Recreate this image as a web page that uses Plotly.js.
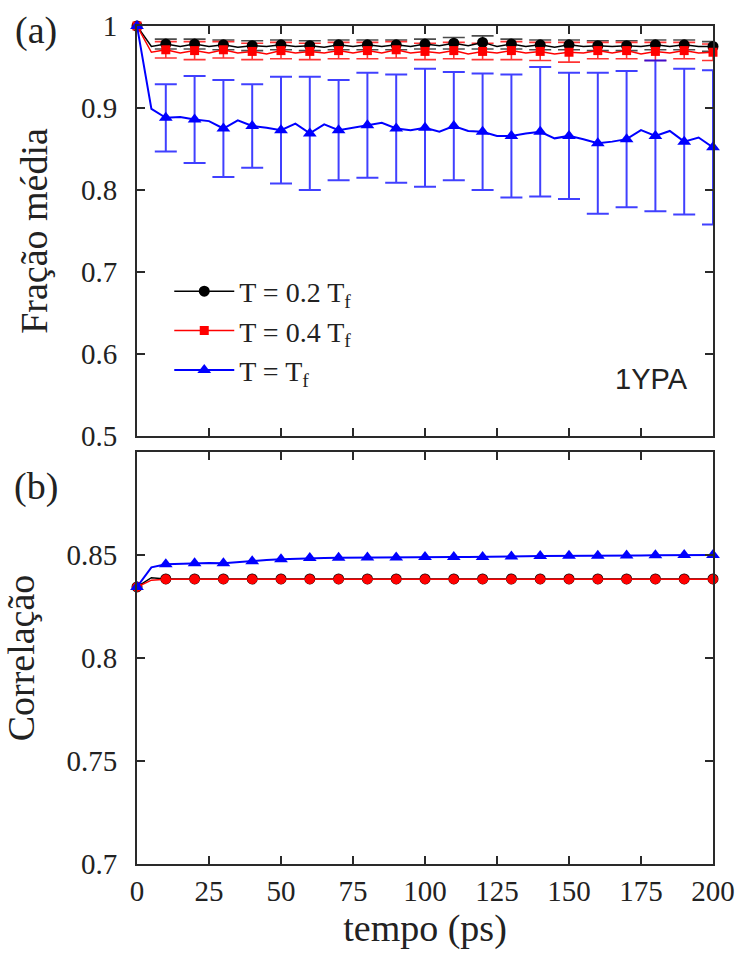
<!DOCTYPE html>
<html>
<head>
<meta charset="utf-8">
<script src="https://cdn.plot.ly/plotly-3.0.1.min.js"></script>
<style>html,body{margin:0;padding:0;background:#fff}#chart{width:739px;height:954px}</style>
</head>
<body>
<div id="chart"></div>
<script>
// ---------- data ----------
const tempo = [0,5,10,15,20,25,30,35,40,45,50,55,60,65,70,75,80,85,90,95,100,105,110,115,120,125,130,135,140,145,150,155,160,165,170,175,180,185,190,195,200];
const tempoBarras = [10,20,30,40,50,60,70,80,90,100,110,120,130,140,150,160,170,180,190,200];

// (a) Fração média
const fracao02 = [1.000,0.975,0.978,0.975,0.978,0.975,0.977,0.974,0.976,0.975,0.977,0.975,0.976,0.974,0.977,0.975,0.977,0.975,0.977,0.975,0.978,0.976,0.979,0.976,0.980,0.975,0.978,0.975,0.977,0.974,0.977,0.975,0.976,0.975,0.976,0.975,0.977,0.975,0.977,0.975,0.975];
const erro02 = [0.006,0.006,0.006,0.006,0.006,0.006,0.006,0.006,0.006,0.006,0.007,0.008,0.006,0.006,0.006,0.006,0.006,0.006,0.006,0.006];

const fracao04 = [1.000,0.968,0.971,0.967,0.970,0.967,0.971,0.967,0.969,0.966,0.970,0.967,0.969,0.967,0.970,0.967,0.970,0.967,0.971,0.967,0.969,0.967,0.970,0.966,0.969,0.967,0.970,0.967,0.969,0.966,0.968,0.967,0.970,0.967,0.970,0.966,0.969,0.967,0.970,0.967,0.968];
const erro04 = [0.010,0.011,0.010,0.010,0.010,0.010,0.010,0.010,0.010,0.010,0.010,0.010,0.011,0.011,0.012,0.010,0.010,0.011,0.010,0.010];

const fracao10 = [1.000,0.899,0.888,0.889,0.886,0.884,0.875,0.885,0.878,0.876,0.873,0.881,0.869,0.880,0.873,0.876,0.879,0.882,0.875,0.873,0.876,0.871,0.878,0.872,0.871,0.866,0.866,0.869,0.871,0.863,0.866,0.862,0.857,0.859,0.862,0.873,0.866,0.872,0.859,0.864,0.852];
const erro10 = [0.041,0.053,0.059,0.051,0.065,0.069,0.061,0.064,0.066,0.072,0.066,0.071,0.075,0.079,0.077,0.086,0.083,0.092,0.089,0.094];

// (b) Correlação
const correl02 = [0.8345,0.8390,0.8384,0.8384,0.8384,0.8384,0.8384,0.8384,0.8384,0.8384,0.8384,0.8384,0.8384,0.8384,0.8384,0.8384,0.8384,0.8384,0.8384,0.8384,0.8384,0.8384,0.8384,0.8384,0.8384,0.8384,0.8384,0.8384,0.8384,0.8384,0.8384,0.8384,0.8384,0.8384,0.8384,0.8384,0.8384,0.8384,0.8384,0.8384,0.8384];
const correl04 = [0.8345,0.8378,0.8382,0.8382,0.8382,0.8382,0.8382,0.8382,0.8382,0.8382,0.8382,0.8382,0.8382,0.8382,0.8382,0.8382,0.8382,0.8382,0.8382,0.8382,0.8382,0.8382,0.8382,0.8382,0.8382,0.8382,0.8382,0.8382,0.8382,0.8382,0.8382,0.8382,0.8382,0.8382,0.8382,0.8382,0.8382,0.8382,0.8382,0.8382,0.8382];
const correl10 = [0.8345,0.8440,0.8455,0.8458,0.8460,0.8461,0.8460,0.8466,0.8470,0.8476,0.8480,0.8483,0.8485,0.8486,0.8487,0.8487,0.8488,0.8488,0.8488,0.8489,0.8490,0.8490,0.8490,0.8491,0.8491,0.8492,0.8493,0.8494,0.8495,0.8495,0.8496,0.8496,0.8497,0.8497,0.8498,0.8498,0.8499,0.8499,0.8500,0.8500,0.8500];

const nomes = ['T = 0.2 T<sub>f</sub>', 'T = 0.4 T<sub>f</sub>', 'T = T<sub>f</sub>'];
const xTicks = [0,25,50,75,100,125,150,175,200];
const xTicksText = ['0','25','50','75','100','125','150','175','200'];
const yTicksA = [0.5,0.6,0.7,0.8,0.9,1];
const yTicksAText = ['0.5','0.6','0.7','0.8','0.9','1'];
const yTicksB = [0.7,0.75,0.8,0.85];
const yTicksBText = ['0.7','0.75','0.8','0.85'];

// ---------- build ----------
const SERIF = 'Liberation Serif';
const cores = ['#000000', '#ff0000', '#0000ff'];
const errCores = ['rgba(0,0,0,0.7)', 'rgba(255,0,0,0.8)', 'rgba(0,0,255,0.75)'];

function markerColors(col) {
  // a marker on every other point (every 10 ps), the line passes every 5 ps
  return tempo.map((t, i) => (i % 2 === 0 ? col : 'rgba(0,0,0,0)'));
}
function atBars(arr) {
  return tempoBarras.map(t => arr[tempo.indexOf(t)]);
}

const traces = [];
const serA = [
  {y: fracao02, e: erro02, sym: 'circle', size: 11, lw: 1.5},
  {y: fracao04, e: erro04, sym: 'square', size: 9, lw: 1.5},
  {y: fracao10, e: erro10, sym: 'triangle-up', size: 12, lw: 2}
];
serA.forEach((s, k) => {
  traces.push({
    x: tempoBarras, y: atBars(s.y), xaxis: 'x2', yaxis: 'y2', type: 'scatter', mode: 'markers',
    marker: {color: 'rgba(0,0,0,0)', size: 2},
    error_y: {type: 'data', array: s.e, visible: true, color: errCores[k], thickness: k === 2 ? 2 : 1.6, width: 11},
    showlegend: false, hoverinfo: 'skip', cliponaxis: false
  });
});
serA.forEach((s, k) => {
  traces.push({
    x: tempo, y: s.y, xaxis: 'x2', yaxis: 'y2', type: 'scatter', mode: 'lines+markers',
    name: nomes[k],
    line: {color: cores[k], width: s.lw},
    marker: {symbol: s.sym, size: s.size, color: markerColors(cores[k])},
    cliponaxis: false
  });
});
const serB = [
  {y: correl02, sym: 'circle', size: 11, lw: 1.5},
  {y: correl04, sym: 'circle', size: 10, lw: 1.5},
  {y: correl10, sym: 'triangle-up', size: 12, lw: 2}
];
serB.forEach((s, k) => {
  traces.push({
    x: tempo, y: s.y, xaxis: 'x', yaxis: 'y', type: 'scatter', mode: 'lines+markers',
    name: nomes[k], showlegend: false,
    line: {color: cores[k], width: s.lw},
    marker: {symbol: s.sym, size: s.size, color: markerColors(cores[k])},
    cliponaxis: false
  });
});

function axisBase(extra) {
  return Object.assign({
    showline: true, linecolor: '#2a2a2a', linewidth: 2, mirror: 'allticks',
    ticks: 'inside', ticklen: 8, tickwidth: 1.5, tickcolor: '#2a2a2a',
    showgrid: false, zeroline: false, fixedrange: true,
    tickfont: {family: SERIF, size: 29, color: '#222'}
  }, extra);
}

const layout = {
  width: 739, height: 954,
  margin: {l: 137, r: 26, t: 26, b: 90},
  paper_bgcolor: '#fff', plot_bgcolor: '#fff',
  font: {family: SERIF, color: '#222', size: 29},
  showlegend: true,
  legend: {
    x: 0.056, y: 0.713, xanchor: 'left', yanchor: 'top',
    bgcolor: 'rgba(0,0,0,0)', borderwidth: 0,
    font: {family: SERIF, size: 28, color: '#222'},
    itemwidth: 60, tracegroupgap: 0
  },
  xaxis: axisBase({
    domain: [0, 1], anchor: 'y', range: [0, 200], tickmode: 'array', tickvals: xTicks, ticktext: xTicksText,
    ticklabelstandoff: 0,
    title: {text: 'tempo (ps)', font: {family: SERIF, size: 38, color: '#222'}, standoff: 2}
  }),
  yaxis: axisBase({
    domain: [0, 0.4916], anchor: 'x', range: [0.7, 0.9], tickmode: 'array',
    tickvals: yTicksB, ticktext: yTicksBText, ticklabelstandoff: 12,
    title: {text: 'Correlação', font: {family: SERIF, size: 38, color: '#222'}, standoff: 22}
  }),
  xaxis2: axisBase({
    domain: [0, 1], anchor: 'y2', range: [0, 200], tickmode: 'array', tickvals: xTicks,
    showticklabels: false, matches: 'x'
  }),
  yaxis2: axisBase({
    domain: [0.5107, 1], anchor: 'x2', range: [0.5, 1], tickmode: 'array',
    tickvals: yTicksA, ticktext: yTicksAText, ticklabelstandoff: 12,
    title: {text: 'Fração média', font: {family: SERIF, size: 38, color: '#222'}, standoff: 22}
  }),
  annotations: [
    {text: '(a)', xref: 'paper', yref: 'paper', x: -0.175, y: 0.995, xanchor: 'center', yanchor: 'middle', showarrow: false, font: {family: SERIF, size: 38, color: '#222'}},
    {text: '(b)', xref: 'paper', yref: 'paper', x: -0.175, y: 0.45, xanchor: 'center', yanchor: 'middle', showarrow: false, font: {family: SERIF, size: 38, color: '#222'}},
    {text: '1YPA', xref: 'paper', yref: 'paper', x: 0.894, y: 0.5788, xanchor: 'center', yanchor: 'middle', showarrow: false, font: {family: 'Liberation Sans', size: 29, color: '#222'}}
  ]
};

Plotly.newPlot('chart', traces, layout, {staticPlot: true, displayModeBar: false});
</script>
</body>
</html>
